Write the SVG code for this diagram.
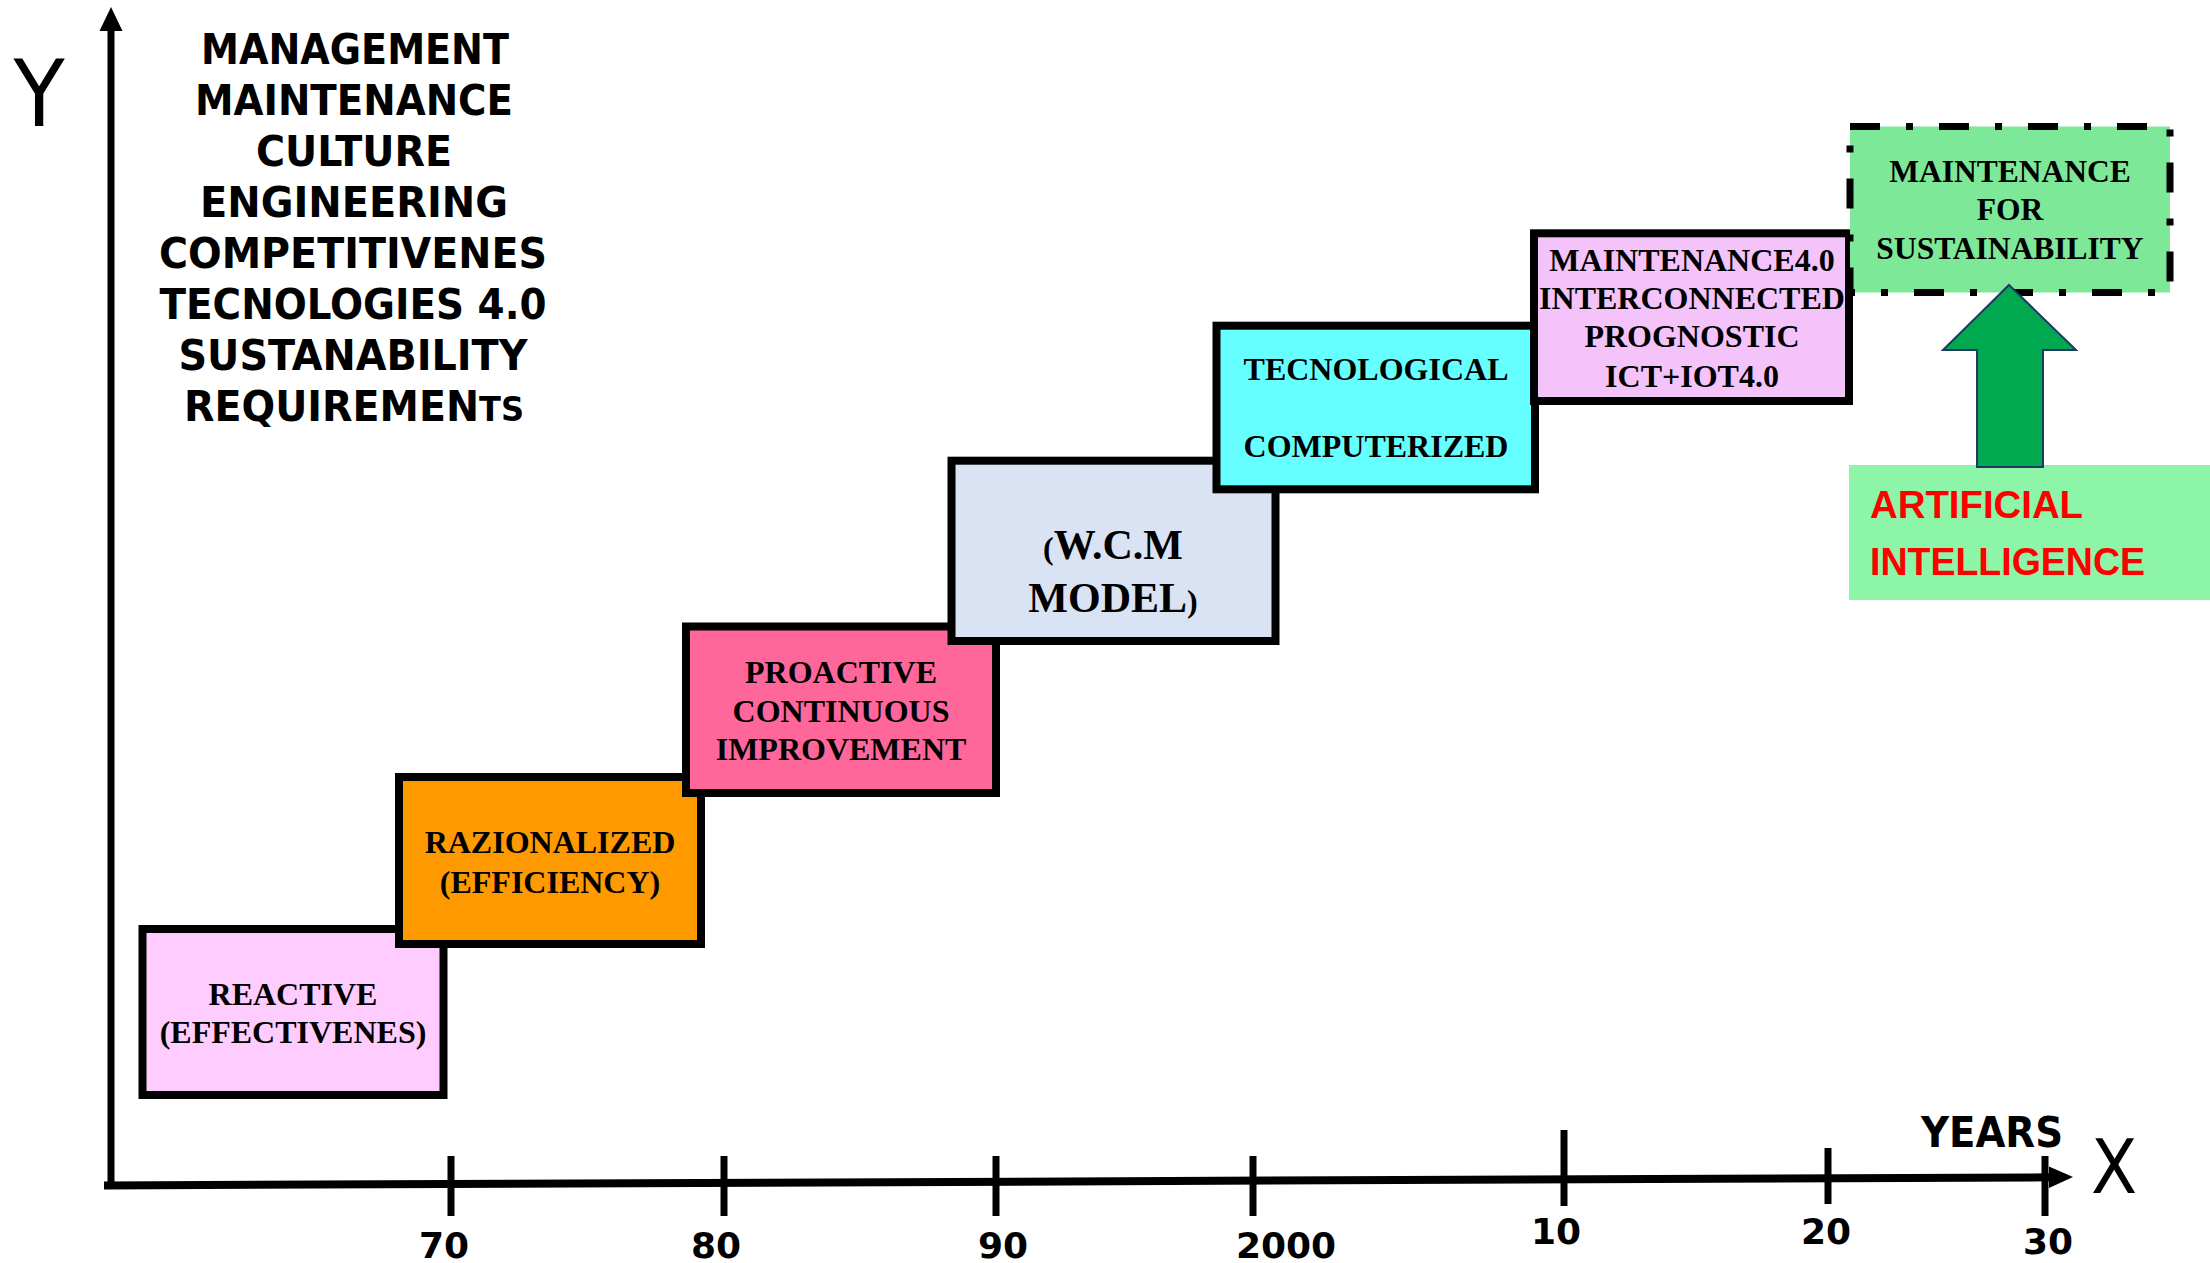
<svg xmlns="http://www.w3.org/2000/svg" width="2210" height="1263" viewBox="0 0 2210 1263">
  <style>
    .box { stroke: #000; stroke-width: 8; }
    .bt { font-family: "Liberation Serif", "Times New Roman", serif; font-weight: bold; font-size: 32px; text-anchor: middle; fill: #000; }
    .lt { font-family: "DejaVu Sans Condensed", "DejaVu Sans", sans-serif; font-weight: bold; font-size: 42px; text-anchor: middle; fill: #000; }
    .tk { font-family: "DejaVu Sans", sans-serif; font-weight: bold; font-size: 36px; text-anchor: middle; fill: #000; }
    .ax { font-family: "DejaVu Sans Condensed", "DejaVu Sans", sans-serif; font-size: 93px; text-anchor: middle; fill: #000; }
    .tick { stroke: #000; stroke-width: 7; }
    .ai { font-family: "Liberation Sans", Arial, sans-serif; font-weight: bold; font-size: 39px; fill: #FF0000; }
  </style>

  <g id="axes">
    <line x1="111" y1="1185" x2="111" y2="28" stroke="#000" stroke-width="7"/>
    <polygon points="111,7 99.5,31 122.5,31" fill="#000"/>
    <line x1="104" y1="1185.5" x2="2052" y2="1177.3" stroke="#000" stroke-width="8"/>
    <polygon points="2073,1177 2049,1166.5 2049,1188" fill="#000"/>
    <line class="tick" x1="451" y1="1156" x2="451" y2="1216"/>
    <line class="tick" x1="724" y1="1156" x2="724" y2="1216"/>
    <line class="tick" x1="996" y1="1156" x2="996" y2="1216"/>
    <line class="tick" x1="1253" y1="1156" x2="1253" y2="1216"/>
    <line class="tick" x1="1564" y1="1130" x2="1564" y2="1206"/>
    <line class="tick" x1="1828" y1="1148" x2="1828" y2="1204"/>
    <line class="tick" x1="2045" y1="1156" x2="2045" y2="1216"/>
    <text class="tk" x="444" y="1258">70</text>
    <text class="tk" x="716" y="1258">80</text>
    <text class="tk" x="1003" y="1258">90</text>
    <text class="tk" x="1286" y="1258">2000</text>
    <text class="tk" x="1556" y="1244">10</text>
    <text class="tk" x="1826" y="1244">20</text>
    <text class="tk" x="2048" y="1254">30</text>
    <text class="lt" x="1992" y="1147" textLength="142" lengthAdjust="spacingAndGlyphs">YEARS</text>
    <text class="ax" x="39" y="126">Y</text>
    <text class="ax" x="2114" y="1193" style="font-size:75px">X</text>
  </g>

  <g id="y-title">
    <text class="lt" x="355" y="64" textLength="308" lengthAdjust="spacingAndGlyphs">MANAGEMENT</text>
    <text class="lt" x="354" y="115" textLength="318" lengthAdjust="spacingAndGlyphs">MAINTENANCE</text>
    <text class="lt" x="354" y="166" textLength="196" lengthAdjust="spacingAndGlyphs">CULTURE</text>
    <text class="lt" x="354" y="217" textLength="308" lengthAdjust="spacingAndGlyphs">ENGINEERING</text>
    <text class="lt" x="353" y="268" textLength="388" lengthAdjust="spacingAndGlyphs">COMPETITIVENES</text>
    <text class="lt" x="353" y="319" textLength="387" lengthAdjust="spacingAndGlyphs">TECNOLOGIES 4.0</text>
    <text class="lt" x="353" y="370" textLength="349" lengthAdjust="spacingAndGlyphs">SUSTANABILITY</text>
    <text class="lt" x="354" y="421" textLength="340" lengthAdjust="spacingAndGlyphs">REQUIREMEN<tspan style="font-size:34px">TS</tspan></text>
  </g>

  <g id="node-reactive">
    <rect class="box" x="142.5" y="929" width="301" height="166" fill="#FFCCFF"/>
    <text class="bt" x="293" y="1005">REACTIVE</text>
    <text class="bt" x="293" y="1043">(EFFECTIVENES)</text>
  </g>

  <g id="node-razionalized">
    <rect class="box" x="399" y="777" width="302" height="167" fill="#FF9900"/>
    <text class="bt" x="550" y="853">RAZIONALIZED</text>
    <text class="bt" x="550" y="893">(EFFICIENCY)</text>
  </g>

  <g id="node-proactive">
    <rect class="box" x="686" y="626.5" width="310" height="166.5" fill="#FF6699"/>
    <text class="bt" x="841" y="683">PROACTIVE</text>
    <text class="bt" x="841" y="722">CONTINUOUS</text>
    <text class="bt" x="841" y="760">IMPROVEMENT</text>
  </g>

  <g id="node-wcm">
    <rect class="box" x="951.5" y="460.7" width="324" height="180.3" fill="#DAE3F3"/>
    <text class="bt" x="1113" y="559" style="font-size:42px"><tspan style="font-size:32px">(</tspan>W.C.M</text>
    <text class="bt" x="1113" y="612" style="font-size:42px">MODEL<tspan style="font-size:32px">)</tspan></text>
  </g>

  <g id="node-tecnological">
    <rect class="box" x="1216.5" y="325.7" width="318.5" height="163.6" fill="#66FFFF"/>
    <text class="bt" x="1376" y="380">TECNOLOGICAL</text>
    <text class="bt" x="1376" y="457">COMPUTERIZED</text>
  </g>

  <g id="node-maintenance40">
    <rect class="box" x="1534" y="233.3" width="315" height="167.7" fill="#F3C3FA"/>
    <text class="bt" x="1692" y="271">MAINTENANCE4.0</text>
    <text class="bt" x="1692" y="309">INTERCONNECTED</text>
    <text class="bt" x="1692" y="347">PROGNOSTIC</text>
    <text class="bt" x="1692" y="387">ICT+IOT4.0</text>
  </g>

  <g id="node-sustainability">
    <rect x="1850" y="126.5" width="320" height="166" fill="#7EE899" stroke="#000" stroke-width="7" stroke-dasharray="30 26 7 26"/>
    <text class="bt" x="2010" y="182" style="font-size:31.5px">MAINTENANCE</text>
    <text class="bt" x="2010" y="220" style="font-size:31.5px">FOR</text>
    <text class="bt" x="2010" y="259" style="font-size:31.5px">SUSTAINABILITY</text>
  </g>

  <g id="node-ai">
    <rect x="1849" y="465" width="361" height="135" fill="#8DF5A7"/>
    <text class="ai" x="1870" y="518" textLength="213" lengthAdjust="spacingAndGlyphs">ARTIFICIAL</text>
    <text class="ai" x="1870" y="575" textLength="275" lengthAdjust="spacingAndGlyphs">INTELLIGENCE</text>
  </g>

  <g id="connectors">
    <polygon points="2009,285 2076,350 2043,350 2043,467 1977,467 1977,350 1943,350" fill="#00A84F" stroke="#203864" stroke-width="2" stroke-linejoin="miter"/>
  </g>
</svg>
